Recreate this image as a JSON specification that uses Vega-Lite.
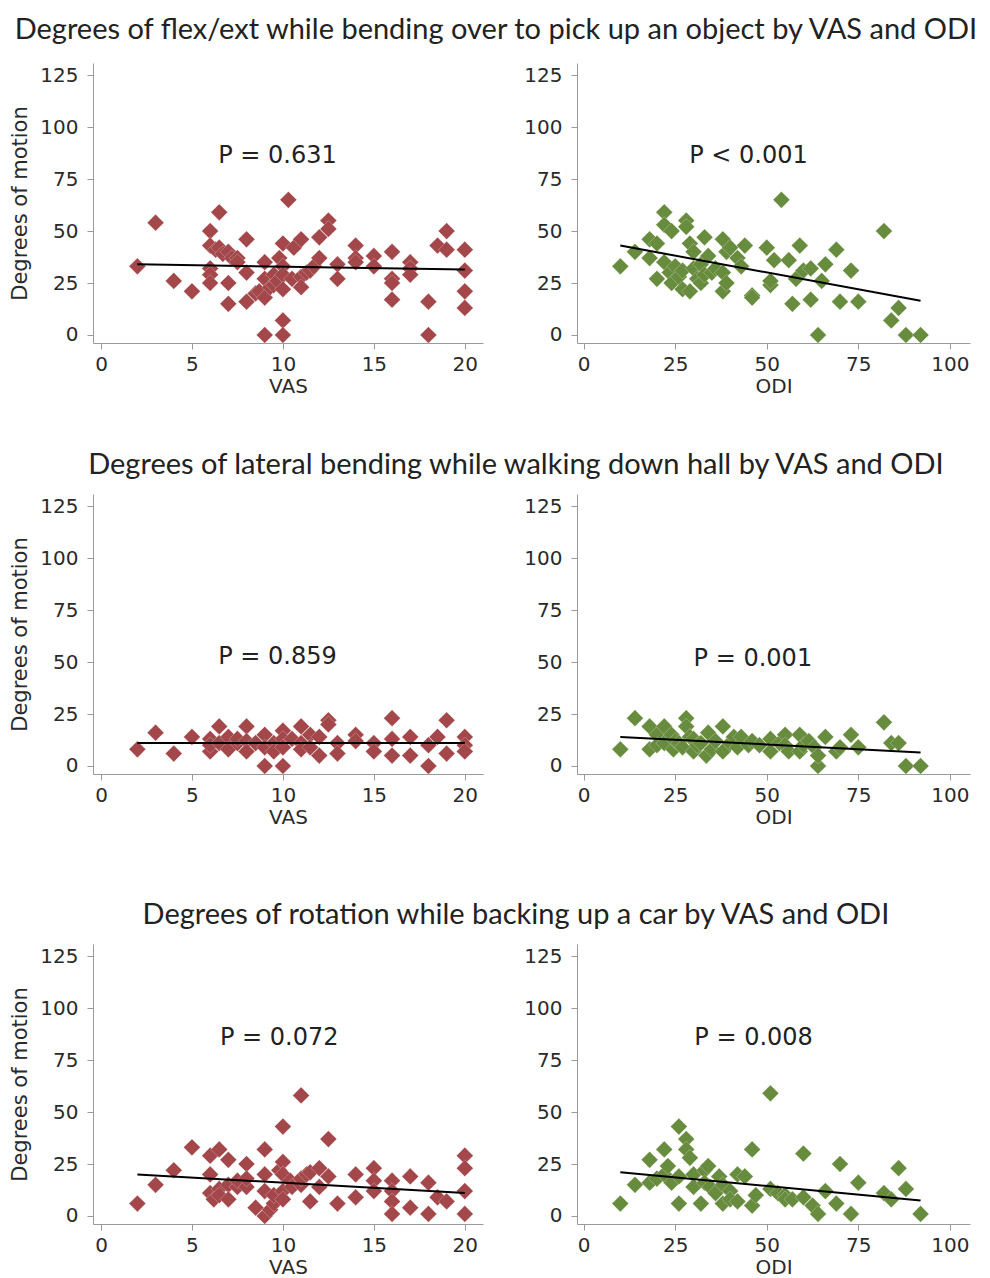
{
  "$schema": "https://vega.github.io/schema/vega-lite/v6.json",
  "background": "white",
  "padding": {"left": 9, "top": 16, "right": 5, "bottom": 0},
  "config": {
    "view": {"stroke": null},
    "axis": {"grid": false, "domainColor": "#9a9a9a", "tickColor": "#9a9a9a", "tickSize": 6, "labelColor": "#2a2a2a", "labelFont": "DejaVu Sans", "labelFontSize": 20, "labelPadding": 9, "titleFont": "DejaVu Sans", "titleFontSize": 20, "titleFontWeight": "normal", "titleColor": "#2a2a2a"},
    "title": {"font": "Lato", "fontSize": 29, "fontWeight": "normal", "color": "#222222"},
    "concat": {"spacing": 40}
  },
  "datasets": {
    "vas_flex": [
      {"x":2,"y":33},{"x":3,"y":54},{"x":4,"y":26},{"x":5,"y":21},{"x":6,"y":50},{"x":6,"y":43},{"x":6,"y":32},{"x":6,"y":29},{"x":6,"y":25},{"x":6.3,"y":41},{"x":6.5,"y":59},{"x":6.5,"y":42},{"x":6.7,"y":39},{"x":7,"y":40},{"x":7,"y":25},{"x":7,"y":15},{"x":7.2,"y":37},{"x":7.5,"y":37},{"x":7.5,"y":35},{"x":8,"y":46},{"x":8,"y":30},{"x":8,"y":16},{"x":8.5,"y":20},{"x":8.7,"y":21},{"x":9,"y":35},{"x":9,"y":27},{"x":9,"y":18},{"x":9,"y":0},{"x":9.3,"y":23},{"x":9.5,"y":29},{"x":9.5,"y":24},{"x":9.7,"y":26},{"x":9.8,"y":37},{"x":10,"y":44},{"x":10,"y":33},{"x":10,"y":29},{"x":10,"y":22},{"x":10,"y":7},{"x":10,"y":0},{"x":10.3,"y":65},{"x":10.5,"y":27},{"x":10.6,"y":42},{"x":11,"y":46},{"x":11,"y":28},{"x":11,"y":23},{"x":11.3,"y":30},{"x":11.5,"y":31},{"x":11.7,"y":33},{"x":12,"y":47},{"x":12,"y":37},{"x":12.5,"y":55},{"x":12.5,"y":51},{"x":13,"y":34},{"x":13,"y":27},{"x":14,"y":43},{"x":14,"y":37},{"x":14,"y":35},{"x":15,"y":38},{"x":15,"y":33},{"x":16,"y":40},{"x":16,"y":27},{"x":16,"y":25},{"x":16,"y":17},{"x":17,"y":35},{"x":17,"y":32},{"x":17,"y":29},{"x":18,"y":16},{"x":18,"y":0},{"x":18.5,"y":43},{"x":19,"y":50},{"x":19,"y":41},{"x":20,"y":41},{"x":20,"y":31},{"x":20,"y":21},{"x":20,"y":13}
    ],
    "odi_flex": [
      {"x":10,"y":33},{"x":14,"y":40},{"x":18,"y":37},{"x":18,"y":46},{"x":20,"y":44},{"x":20,"y":27},{"x":22,"y":59},{"x":22,"y":53},{"x":22,"y":35},{"x":24,"y":50},{"x":23.5,"y":30},{"x":24,"y":25},{"x":25,"y":33},{"x":26,"y":28},{"x":27,"y":22},{"x":27,"y":31},{"x":28,"y":55},{"x":28,"y":52},{"x":29,"y":44},{"x":30,"y":40},{"x":29,"y":21},{"x":30,"y":32},{"x":31,"y":27},{"x":32,"y":34},{"x":32,"y":25},{"x":33,"y":47},{"x":33,"y":29},{"x":34,"y":38},{"x":35,"y":30},{"x":36,"y":32},{"x":38,"y":21},{"x":38,"y":46},{"x":38,"y":30},{"x":39,"y":40},{"x":39,"y":25},{"x":40,"y":42},{"x":42,"y":37},{"x":43,"y":33},{"x":44,"y":43},{"x":46,"y":19},{"x":46,"y":18},{"x":50,"y":42},{"x":51,"y":24},{"x":51,"y":26},{"x":52,"y":36},{"x":54,"y":65},{"x":56,"y":36},{"x":57,"y":15},{"x":58,"y":27},{"x":59,"y":43},{"x":60,"y":31},{"x":62,"y":32},{"x":62,"y":17},{"x":64,"y":0},{"x":65,"y":26},{"x":66,"y":34},{"x":69,"y":41},{"x":70,"y":16},{"x":73,"y":31},{"x":75,"y":16},{"x":82,"y":50},{"x":84,"y":7},{"x":86,"y":13},{"x":88,"y":0},{"x":92,"y":0}
    ],
    "vas_lat": [
      {"x":2,"y":8},{"x":3,"y":16},{"x":4,"y":6},{"x":5,"y":14},{"x":6,"y":13},{"x":6,"y":7},{"x":6,"y":10},{"x":6.5,"y":19},{"x":6.5,"y":11},{"x":7,"y":14},{"x":7,"y":8},{"x":7.5,"y":11},{"x":7.5,"y":13},{"x":8,"y":19},{"x":8,"y":12},{"x":8,"y":7},{"x":8.5,"y":11},{"x":9,"y":15},{"x":9,"y":9},{"x":9,"y":0},{"x":9.5,"y":11},{"x":9.5,"y":7},{"x":10,"y":17},{"x":10,"y":13},{"x":10,"y":9},{"x":10,"y":0},{"x":10.5,"y":13},{"x":11,"y":19},{"x":11,"y":11},{"x":11,"y":8},{"x":11.5,"y":15},{"x":11.5,"y":9},{"x":12,"y":14},{"x":12,"y":5},{"x":12.5,"y":22},{"x":12.5,"y":20},{"x":13,"y":11},{"x":13,"y":6},{"x":14,"y":15},{"x":14,"y":12},{"x":15,"y":11},{"x":15,"y":7},{"x":16,"y":23},{"x":16,"y":13},{"x":16,"y":5},{"x":17,"y":14},{"x":17,"y":5},{"x":18,"y":10},{"x":18,"y":0},{"x":18.5,"y":14},{"x":19,"y":22},{"x":19,"y":6},{"x":20,"y":14},{"x":20,"y":10},{"x":20,"y":7}
    ],
    "odi_lat": [
      {"x":10,"y":8},{"x":14,"y":23},{"x":18,"y":19},{"x":18,"y":8},{"x":20,"y":15},{"x":20,"y":10},{"x":22,"y":19},{"x":22,"y":11},{"x":24,"y":15},{"x":24.5,"y":8},{"x":25,"y":12},{"x":26,"y":11},{"x":27,"y":9},{"x":28,"y":23},{"x":28,"y":19},{"x":29,"y":14},{"x":30,"y":7},{"x":30,"y":13},{"x":31,"y":10},{"x":32,"y":11},{"x":33.5,"y":5},{"x":34,"y":16},{"x":35,"y":8},{"x":36,"y":12},{"x":38,"y":19},{"x":38,"y":7},{"x":40,"y":11},{"x":41,"y":14},{"x":42,"y":9},{"x":43,"y":14},{"x":45,"y":10},{"x":46,"y":12},{"x":48,"y":10},{"x":51,"y":13},{"x":51,"y":7},{"x":53.5,"y":11},{"x":55,"y":15},{"x":55,"y":10},{"x":56,"y":7},{"x":59,"y":15},{"x":59,"y":7},{"x":60,"y":10},{"x":61.5,"y":12},{"x":63,"y":9},{"x":64,"y":0},{"x":64,"y":5},{"x":66,"y":14},{"x":69,"y":7},{"x":70,"y":9},{"x":73,"y":15},{"x":75,"y":9},{"x":82,"y":21},{"x":84,"y":11},{"x":86,"y":11},{"x":88,"y":0},{"x":92,"y":0}
    ],
    "vas_rot": [
      {"x":2,"y":6},{"x":3,"y":15},{"x":4,"y":22},{"x":5,"y":33},{"x":6,"y":29},{"x":6,"y":20},{"x":6,"y":11},{"x":6.2,"y":8},{"x":6.5,"y":32},{"x":6.5,"y":13},{"x":6.5,"y":10},{"x":7,"y":27},{"x":7,"y":15},{"x":7,"y":8},{"x":7.5,"y":14},{"x":7.5,"y":17},{"x":8,"y":25},{"x":8,"y":14},{"x":8,"y":18},{"x":8.5,"y":4},{"x":9,"y":32},{"x":9,"y":20},{"x":9,"y":12},{"x":9,"y":0},{"x":9.3,"y":3},{"x":9.5,"y":6},{"x":9.5,"y":10},{"x":9.8,"y":22},{"x":10,"y":43},{"x":10,"y":26},{"x":10,"y":20},{"x":10,"y":12},{"x":10,"y":8},{"x":10.4,"y":17},{"x":10.5,"y":14},{"x":11,"y":58},{"x":11,"y":15},{"x":11,"y":18},{"x":11.3,"y":20},{"x":11.5,"y":7},{"x":11.5,"y":21},{"x":12,"y":23},{"x":12,"y":14},{"x":12.5,"y":37},{"x":12.5,"y":19},{"x":13,"y":6},{"x":14,"y":20},{"x":14,"y":9},{"x":15,"y":23},{"x":15,"y":17},{"x":15,"y":12},{"x":16,"y":17},{"x":16,"y":12},{"x":16,"y":7},{"x":16,"y":1},{"x":17,"y":19},{"x":17,"y":4},{"x":18,"y":16},{"x":18,"y":1},{"x":18.5,"y":9},{"x":19,"y":7},{"x":20,"y":29},{"x":20,"y":23},{"x":20,"y":12},{"x":20,"y":1}
    ],
    "odi_rot": [
      {"x":10,"y":6},{"x":14,"y":15},{"x":18,"y":27},{"x":18,"y":16},{"x":20,"y":18},{"x":22,"y":32},{"x":22,"y":20},{"x":23,"y":24},{"x":24,"y":16},{"x":26,"y":6},{"x":26,"y":43},{"x":26,"y":19},{"x":28,"y":37},{"x":28,"y":32},{"x":29,"y":28},{"x":30,"y":20},{"x":30,"y":14},{"x":32,"y":6},{"x":33,"y":22},{"x":33,"y":16},{"x":34,"y":24},{"x":34.5,"y":14},{"x":36,"y":11},{"x":37,"y":19},{"x":38,"y":6},{"x":38,"y":15},{"x":40,"y":12},{"x":40,"y":8},{"x":42,"y":7},{"x":42,"y":20},{"x":44,"y":19},{"x":46,"y":32},{"x":46,"y":5},{"x":47,"y":10},{"x":51,"y":59},{"x":51,"y":13},{"x":53,"y":11},{"x":55,"y":10},{"x":55,"y":8},{"x":57,"y":8},{"x":60,"y":30},{"x":60,"y":9},{"x":62.5,"y":5},{"x":64,"y":1},{"x":66,"y":12},{"x":69,"y":6},{"x":70,"y":25},{"x":73,"y":1},{"x":75,"y":16},{"x":82,"y":11},{"x":84,"y":8},{"x":86,"y":23},{"x":88,"y":13},{"x":92,"y":1}
    ],
    "fits": [
      {"panel":"vas_flex","x":2,"y":34},{"panel":"vas_flex","x":20,"y":31.5},
      {"panel":"odi_flex","x":10,"y":43},{"panel":"odi_flex","x":92,"y":16.5},
      {"panel":"vas_lat","x":2,"y":11},{"panel":"vas_lat","x":20,"y":11},
      {"panel":"odi_lat","x":10,"y":14},{"panel":"odi_lat","x":92,"y":6.5},
      {"panel":"vas_rot","x":2,"y":20},{"panel":"vas_rot","x":20,"y":11},
      {"panel":"odi_rot","x":10,"y":21},{"panel":"odi_rot","x":92,"y":7.5}
    ],
    "labels": [
      {"panel":"vas_flex","x":9.7,"y":86,"label":"P = 0.631"},
      {"panel":"odi_flex","x":45,"y":86,"label":"P < 0.001"},
      {"panel":"vas_lat","x":9.7,"y":52.4,"label":"P = 0.859"},
      {"panel":"odi_lat","x":46.2,"y":51.4,"label":"P = 0.001"},
      {"panel":"vas_rot","x":9.8,"y":85.7,"label":"P = 0.072"},
      {"panel":"odi_rot","x":46.4,"y":85.7,"label":"P = 0.008"}
    ]
  },
  "vconcat": [
    {
      "spacing": 55,
      "vconcat": [
        {
          "title": {"text": "Degrees of flex/ext while bending over to pick up an object by VAS and ODI", "anchor": "middle", "offset": 18, "dx": 6},
          "hconcat": [
            {"width": 390, "height": 280, "layer": [
              {"data": {"name": "vas_flex"}, "mark": {"type": "point", "shape": "diamond", "filled": true, "size": 280, "color": "#a3474b", "opacity": 1, "stroke": "white", "strokeWidth": 0.5, "strokeOpacity": 0.5},
               "encoding": {"x": {"field": "x", "type": "quantitative", "scale": {"domain": [-0.44, 21], "nice": false, "zero": false}, "axis": {"title": "VAS", "values": [0, 5, 10, 15, 20], "titlePadding": 2, "labelPadding": 5}},
                            "y": {"field": "y", "type": "quantitative", "scale": {"domain": [-3.85, 130.8], "nice": false, "zero": false}, "axis": {"title": "Degrees of motion", "titleFontSize": 21, "values": [0, 25, 50, 75, 100, 125], "titlePadding": 9}}}},
              {"data": {"name": "fits"}, "transform": [{"filter": "datum.panel === 'vas_flex'"}], "mark": {"type": "line", "color": "black", "strokeWidth": 2}, "encoding": {"x": {"field": "x", "type": "quantitative"}, "y": {"field": "y", "type": "quantitative"}}},
              {"data": {"name": "labels"}, "transform": [{"filter": "datum.panel === 'vas_flex'"}], "mark": {"type": "text", "font": "DejaVu Sans", "fontSize": 24, "color": "#222222"}, "encoding": {"x": {"field": "x", "type": "quantitative"}, "y": {"field": "y", "type": "quantitative"}, "text": {"field": "label"}}}
            ]},
            {"width": 393, "height": 280, "layer": [
              {"data": {"name": "odi_flex"}, "mark": {"type": "point", "shape": "diamond", "filled": true, "size": 280, "color": "#688c3e", "opacity": 1, "stroke": "white", "strokeWidth": 0.5, "strokeOpacity": 0.5},
               "encoding": {"x": {"field": "x", "type": "quantitative", "scale": {"domain": [-1.83, 105.5], "nice": false, "zero": false}, "axis": {"title": "ODI", "values": [0, 25, 50, 75, 100], "titlePadding": 2, "labelPadding": 5}},
                            "y": {"field": "y", "type": "quantitative", "scale": {"domain": [-3.85, 130.8], "nice": false, "zero": false}, "axis": {"title": null, "values": [0, 25, 50, 75, 100, 125]}}}},
              {"data": {"name": "fits"}, "transform": [{"filter": "datum.panel === 'odi_flex'"}], "mark": {"type": "line", "color": "black", "strokeWidth": 2}, "encoding": {"x": {"field": "x", "type": "quantitative"}, "y": {"field": "y", "type": "quantitative"}}},
              {"data": {"name": "labels"}, "transform": [{"filter": "datum.panel === 'odi_flex'"}], "mark": {"type": "text", "font": "DejaVu Sans", "fontSize": 24, "color": "#222222"}, "encoding": {"x": {"field": "x", "type": "quantitative"}, "y": {"field": "y", "type": "quantitative"}, "text": {"field": "label"}}}
            ]}
          ]
        },
        {
          "title": {"text": "Degrees of lateral bending while walking down hall by VAS and ODI", "anchor": "middle", "offset": 14, "dx": 26},
          "hconcat": [
            {"width": 390, "height": 280, "layer": [
              {"data": {"name": "vas_lat"}, "mark": {"type": "point", "shape": "diamond", "filled": true, "size": 280, "color": "#a3474b", "opacity": 1, "stroke": "white", "strokeWidth": 0.5, "strokeOpacity": 0.5},
               "encoding": {"x": {"field": "x", "type": "quantitative", "scale": {"domain": [-0.44, 21], "nice": false, "zero": false}, "axis": {"title": "VAS", "values": [0, 5, 10, 15, 20], "titlePadding": 2, "labelPadding": 5}},
                            "y": {"field": "y", "type": "quantitative", "scale": {"domain": [-3.85, 130.8], "nice": false, "zero": false}, "axis": {"title": "Degrees of motion", "titleFontSize": 21, "values": [0, 25, 50, 75, 100, 125], "titlePadding": 9}}}},
              {"data": {"name": "fits"}, "transform": [{"filter": "datum.panel === 'vas_lat'"}], "mark": {"type": "line", "color": "black", "strokeWidth": 2}, "encoding": {"x": {"field": "x", "type": "quantitative"}, "y": {"field": "y", "type": "quantitative"}}},
              {"data": {"name": "labels"}, "transform": [{"filter": "datum.panel === 'vas_lat'"}], "mark": {"type": "text", "font": "DejaVu Sans", "fontSize": 24, "color": "#222222"}, "encoding": {"x": {"field": "x", "type": "quantitative"}, "y": {"field": "y", "type": "quantitative"}, "text": {"field": "label"}}}
            ]},
            {"width": 393, "height": 280, "layer": [
              {"data": {"name": "odi_lat"}, "mark": {"type": "point", "shape": "diamond", "filled": true, "size": 280, "color": "#688c3e", "opacity": 1, "stroke": "white", "strokeWidth": 0.5, "strokeOpacity": 0.5},
               "encoding": {"x": {"field": "x", "type": "quantitative", "scale": {"domain": [-1.83, 105.5], "nice": false, "zero": false}, "axis": {"title": "ODI", "values": [0, 25, 50, 75, 100], "titlePadding": 2, "labelPadding": 5}},
                            "y": {"field": "y", "type": "quantitative", "scale": {"domain": [-3.85, 130.8], "nice": false, "zero": false}, "axis": {"title": null, "values": [0, 25, 50, 75, 100, 125]}}}},
              {"data": {"name": "fits"}, "transform": [{"filter": "datum.panel === 'odi_lat'"}], "mark": {"type": "line", "color": "black", "strokeWidth": 2}, "encoding": {"x": {"field": "x", "type": "quantitative"}, "y": {"field": "y", "type": "quantitative"}}},
              {"data": {"name": "labels"}, "transform": [{"filter": "datum.panel === 'odi_lat'"}], "mark": {"type": "text", "font": "DejaVu Sans", "fontSize": 24, "color": "#222222"}, "encoding": {"x": {"field": "x", "type": "quantitative"}, "y": {"field": "y", "type": "quantitative"}, "text": {"field": "label"}}}
            ]}
          ]
        }
      ]
    },
    {
      "title": {"text": "Degrees of rotation while backing up a car by VAS and ODI", "anchor": "middle", "offset": 14, "dx": 26},
      "hconcat": [
        {"width": 390, "height": 280, "layer": [
          {"data": {"name": "vas_rot"}, "mark": {"type": "point", "shape": "diamond", "filled": true, "size": 280, "color": "#a3474b", "opacity": 1, "stroke": "white", "strokeWidth": 0.5, "strokeOpacity": 0.5},
           "encoding": {"x": {"field": "x", "type": "quantitative", "scale": {"domain": [-0.44, 21], "nice": false, "zero": false}, "axis": {"title": "VAS", "values": [0, 5, 10, 15, 20], "titlePadding": 2, "labelPadding": 5}},
                        "y": {"field": "y", "type": "quantitative", "scale": {"domain": [-3.85, 130.8], "nice": false, "zero": false}, "axis": {"title": "Degrees of motion", "titleFontSize": 21, "values": [0, 25, 50, 75, 100, 125], "titlePadding": 9}}}},
          {"data": {"name": "fits"}, "transform": [{"filter": "datum.panel === 'vas_rot'"}], "mark": {"type": "line", "color": "black", "strokeWidth": 2}, "encoding": {"x": {"field": "x", "type": "quantitative"}, "y": {"field": "y", "type": "quantitative"}}},
          {"data": {"name": "labels"}, "transform": [{"filter": "datum.panel === 'vas_rot'"}], "mark": {"type": "text", "font": "DejaVu Sans", "fontSize": 24, "color": "#222222"}, "encoding": {"x": {"field": "x", "type": "quantitative"}, "y": {"field": "y", "type": "quantitative"}, "text": {"field": "label"}}}
        ]},
        {"width": 393, "height": 280, "layer": [
          {"data": {"name": "odi_rot"}, "mark": {"type": "point", "shape": "diamond", "filled": true, "size": 280, "color": "#688c3e", "opacity": 1, "stroke": "white", "strokeWidth": 0.5, "strokeOpacity": 0.5},
           "encoding": {"x": {"field": "x", "type": "quantitative", "scale": {"domain": [-1.83, 105.5], "nice": false, "zero": false}, "axis": {"title": "ODI", "values": [0, 25, 50, 75, 100], "titlePadding": 2, "labelPadding": 5}},
                        "y": {"field": "y", "type": "quantitative", "scale": {"domain": [-3.85, 130.8], "nice": false, "zero": false}, "axis": {"title": null, "values": [0, 25, 50, 75, 100, 125]}}}},
          {"data": {"name": "fits"}, "transform": [{"filter": "datum.panel === 'odi_rot'"}], "mark": {"type": "line", "color": "black", "strokeWidth": 2}, "encoding": {"x": {"field": "x", "type": "quantitative"}, "y": {"field": "y", "type": "quantitative"}}},
          {"data": {"name": "labels"}, "transform": [{"filter": "datum.panel === 'odi_rot'"}], "mark": {"type": "text", "font": "DejaVu Sans", "fontSize": 24, "color": "#222222"}, "encoding": {"x": {"field": "x", "type": "quantitative"}, "y": {"field": "y", "type": "quantitative"}, "text": {"field": "label"}}}
        ]}
      ]
    }
  ],
  "spacing": 74
}
